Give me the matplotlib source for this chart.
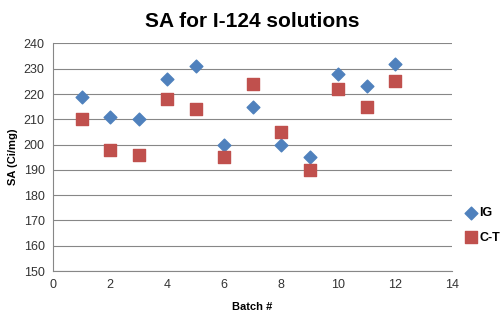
import matplotlib
matplotlib.use("Agg")
import matplotlib.pyplot as plt

plt.rcParams["font.family"] = ["Liberation Sans", "DejaVu Sans"]

batch = [1, 2, 3, 4, 5, 6, 7, 8, 9, 10, 11, 12]
ig = [219, 211, 210, 226, 231, 200, 215, 200, 195, 228, 223, 232]
ct = [210, 198, 196, 218, 214, 195, 224, 205, 190, 222, 215, 225]

fig = plt.figure(figsize=(5.0, 3.17), dpi=100)
ax = fig.add_axes([0.106, 0.145, 0.798, 0.718])

ax.scatter(batch, ig, marker="D", s=42, color="#4F81BD", label="IG", zorder=3)
ax.scatter(batch, ct, marker="s", s=80, color="#C0504D", label="C-T", zorder=3)

ax.set_xlim(0, 14)
ax.set_ylim(150, 240)
ax.set_xticks(range(0, 15, 2))
ax.set_yticks(range(150, 241, 10))
ax.yaxis.grid(True, color="#878787", linewidth=0.8)
ax.set_axisbelow(True)
for s in ["top", "right"]:
    ax.spines[s].set_visible(False)
for s in ["left", "bottom"]:
    ax.spines[s].set_color("#878787")
ax.tick_params(length=0, labelsize=9, colors="#333333", pad=6)

ax.set_title("SA for I-124 solutions", fontsize=15, fontweight="bold", pad=12)
ax.set_ylabel("SA (Ci/mg)", fontsize=8, fontweight="bold")
ax.set_xlabel("Batch #", fontsize=8, fontweight="bold", labelpad=8)

leg = ax.legend(loc="center left", bbox_to_anchor=(1.0, 0.2), frameon=False,
                fontsize=9, handletextpad=0.1, labelspacing=1.0, handlelength=1.2)
for t in leg.get_texts():
    t.set_fontweight("bold")

fig.savefig("out.png", dpi=100)
